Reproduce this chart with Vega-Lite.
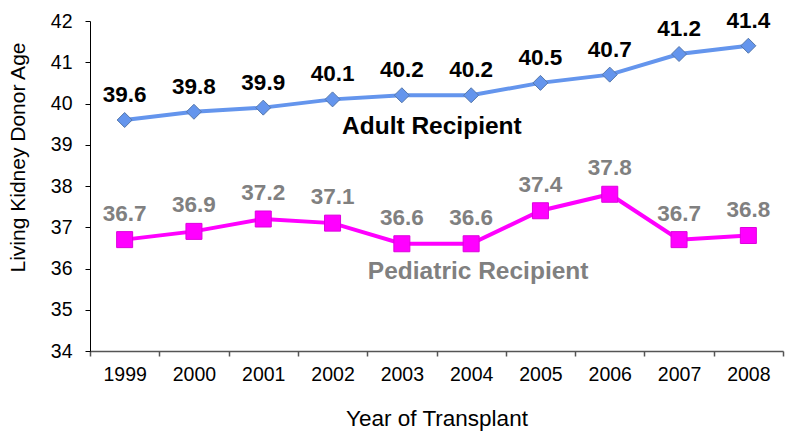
{
  "$schema": "https://vega.github.io/schema/vega-lite/v6.json",
  "width": 693,
  "height": 330,
  "autosize": "none",
  "padding": {"left": 90, "top": 21, "right": 5, "bottom": 83},
  "background": "white",
  "config": {
    "font": "Liberation Sans",
    "view": {"stroke": null}
  },
  "datasets": {
    "main": [
      {"year": "1999", "group": "Adult", "value": 39.6},
      {"year": "2000", "group": "Adult", "value": 39.8},
      {"year": "2001", "group": "Adult", "value": 39.9},
      {"year": "2002", "group": "Adult", "value": 40.1},
      {"year": "2003", "group": "Adult", "value": 40.2},
      {"year": "2004", "group": "Adult", "value": 40.2},
      {"year": "2005", "group": "Adult", "value": 40.5},
      {"year": "2006", "group": "Adult", "value": 40.7},
      {"year": "2007", "group": "Adult", "value": 41.2},
      {"year": "2008", "group": "Adult", "value": 41.4},
      {"year": "1999", "group": "Pediatric", "value": 36.7},
      {"year": "2000", "group": "Pediatric", "value": 36.9},
      {"year": "2001", "group": "Pediatric", "value": 37.2},
      {"year": "2002", "group": "Pediatric", "value": 37.1},
      {"year": "2003", "group": "Pediatric", "value": 36.6},
      {"year": "2004", "group": "Pediatric", "value": 36.6},
      {"year": "2005", "group": "Pediatric", "value": 37.4},
      {"year": "2006", "group": "Pediatric", "value": 37.8},
      {"year": "2007", "group": "Pediatric", "value": 36.7},
      {"year": "2008", "group": "Pediatric", "value": 36.8}
    ],
    "notes": [
      {"year": "2003", "value": 39.43, "label": "Adult Recipient", "group": "Adult"},
      {"year": "2004", "value": 35.92, "label": "Pediatric Recipient", "group": "Pediatric"}
    ]
  },
  "data": {"name": "main"},
  "encoding": {
    "x": {
      "field": "year",
      "type": "ordinal",
      "scale": {"type": "band", "paddingInner": 0, "paddingOuter": 0},
      "axis": {
        "title": "Year of Transplant",
        "titleFontSize": 22.5,
        "titleFontWeight": "normal",
        "titleColor": "black",
        "titlePadding": 24,
        "labelAngle": 0,
        "labelFontSize": 19.5,
        "labelColor": "black",
        "labelPadding": 9,
        "tickBand": "extent",
        "tickSize": 5,
        "tickColor": "#555555",
        "domainColor": "#555555",
        "domainWidth": 1.5,
        "tickWidth": 1.5
      }
    },
    "y": {
      "field": "value",
      "type": "quantitative",
      "scale": {"domain": [34, 42], "nice": false, "zero": false},
      "axis": {
        "title": "Living Kidney Donor Age",
        "titleFontSize": 21,
        "titleFontWeight": "normal",
        "titleColor": "black",
        "titleAngle": -90,
        "titleX": -72,
        "titleY": 136,
        "titleAlign": "center",
        "titleBaseline": "middle",
        "values": [34, 35, 36, 37, 38, 39, 40, 41, 42],
        "grid": false,
        "labelFontSize": 19.5,
        "labelColor": "black",
        "labelPadding": 13,
        "tickSize": 5,
        "tickColor": "black",
        "domainColor": "black"
      }
    }
  },
  "layer": [
    {
      "mark": {"type": "line", "strokeWidth": 4},
      "encoding": {
        "color": {
          "field": "group",
          "type": "nominal",
          "scale": {"domain": ["Adult", "Pediatric"], "range": ["#6495ED", "#FF00FF"]},
          "legend": null
        }
      }
    },
    {
      "transform": [{"filter": "datum.group === 'Adult'"}],
      "mark": {"type": "point", "shape": "diamond", "size": 225, "filled": true, "opacity": 1, "fill": "#6495ED", "stroke": "#5577AA", "strokeWidth": 1}
    },
    {
      "transform": [{"filter": "datum.group === 'Pediatric'"}],
      "mark": {"type": "point", "shape": "square", "size": 256, "filled": true, "opacity": 1, "fill": "#FF00FF", "stroke": "#DD00DD", "strokeWidth": 1}
    },
    {
      "transform": [{"filter": "datum.group === 'Adult'"}],
      "mark": {"type": "text", "fontSize": 22.5, "fontWeight": "bold", "color": "black", "baseline": "alphabetic", "dy": -18},
      "encoding": {"text": {"field": "value", "type": "quantitative", "format": ".1f"}}
    },
    {
      "transform": [{"filter": "datum.group === 'Pediatric'"}],
      "mark": {"type": "text", "fontSize": 22.5, "fontWeight": "bold", "color": "#808080", "baseline": "alphabetic", "dy": -19},
      "encoding": {"text": {"field": "value", "type": "quantitative", "format": ".1f"}}
    },
    {
      "data": {"name": "notes"},
      "transform": [{"filter": "datum.group === 'Adult'"}],
      "mark": {"type": "text", "fontSize": 24.5, "fontWeight": "bold", "color": "black", "baseline": "middle", "dx": 30},
      "encoding": {"text": {"field": "label"}}
    },
    {
      "data": {"name": "notes"},
      "transform": [{"filter": "datum.group === 'Pediatric'"}],
      "mark": {"type": "text", "fontSize": 24.5, "fontWeight": "bold", "color": "#808080", "baseline": "middle", "dx": 7},
      "encoding": {"text": {"field": "label"}}
    }
  ]
}
